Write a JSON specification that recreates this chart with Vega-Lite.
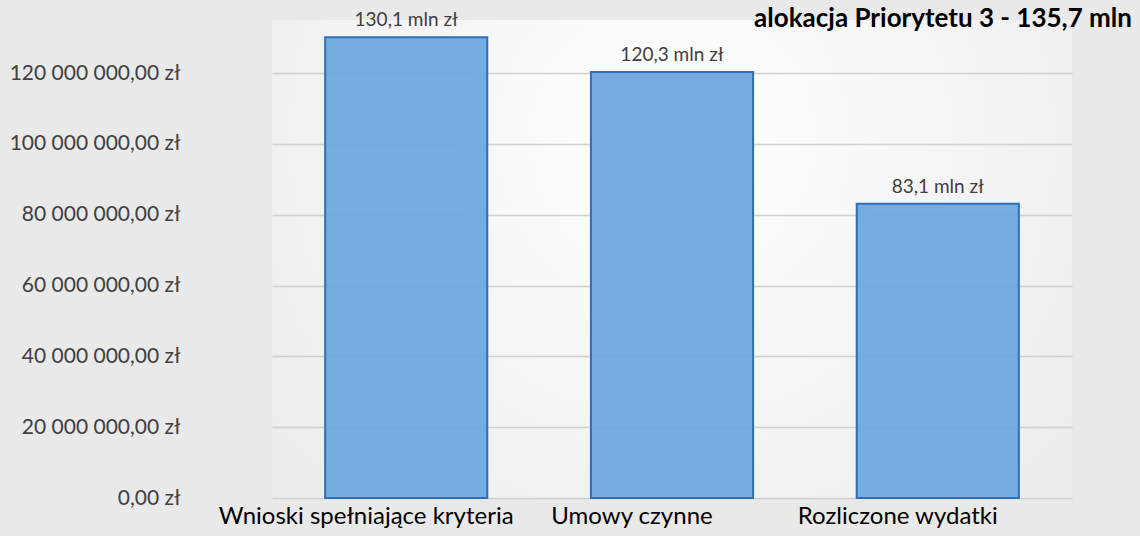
{
  "$schema": "https://vega.github.io/schema/vega-lite/v6.json",
  "autosize": "none",
  "width": 800,
  "height": 478,
  "padding": {"left": 272, "top": 20, "right": 68, "bottom": 38},
  "background": "#e9e9e9",
  "title": {
    "text": "alokacja Priorytetu 3 - 135,7 mln",
    "anchor": "end",
    "frame": "group",
    "dx": 60,
    "dy": 27,
    "fontSize": 26,
    "fontWeight": "bold",
    "font": "Lato",
    "color": "#000000",
    "offset": 6
  },
  "data": {
    "values": [
      {"kategoria": "Wnioski spełniające kryteria", "kwota": 130100000, "etykieta": "130,1 mln zł"},
      {"kategoria": "Umowy czynne", "kwota": 120300000, "etykieta": "120,3 mln zł"},
      {"kategoria": "Rozliczone wydatki", "kwota": 83100000, "etykieta": "83,1 mln zł"}
    ]
  },
  "encoding": {
    "x": {
      "field": "kategoria",
      "type": "nominal",
      "sort": null,
      "scale": {"paddingInner": 0.39, "paddingOuter": 0.2},
      "axis": {
        "title": null,
        "labelAngle": 0,
        "ticks": false,
        "domain": false,
        "labelLimit": 0,
        "labelFontSize": 24,
        "labelFont": "Lato",
        "labelColor": "#000000",
        "labelPadding": 6,
        "labelOffset": -40
      }
    },
    "y": {
      "field": "kwota",
      "type": "quantitative",
      "scale": {"domain": [0, 135000000], "nice": false},
      "axis": {
        "title": null,
        "values": [0, 20000000, 40000000, 60000000, 80000000, 100000000, 120000000],
        "labelExpr": "replace(replace(format(datum.value, ',.2f'), /,/g, ' '), /\\./g, ',') + ' zł'",
        "ticks": false,
        "domain": false,
        "labelLimit": 0,
        "labelPadding": 92,
        "labelFontSize": 21,
        "labelFont": "Lato",
        "labelColor": "#404040",
        "gridColor": "#d0d0d0",
        "gridWidth": 1.5
      }
    }
  },
  "layer": [
    {
      "mark": {
        "type": "bar",
        "fill": "#6fa8e0",
        "fillOpacity": 0.95,
        "stroke": "#2f6fb5",
        "strokeWidth": 2
      }
    },
    {
      "mark": {
        "type": "text",
        "dy": -17,
        "fontSize": 19,
        "font": "Lato",
        "color": "#404040"
      },
      "encoding": {
        "text": {"field": "etykieta"}
      }
    }
  ],
  "config": {
    "view": {
      "stroke": null,
      "fill": {
        "gradient": "radial",
        "x1": 0.5, "y1": 0.35, "x2": 0.5, "y2": 0.35,
        "r1": 0, "r2": 0.75,
        "stops": [
          {"offset": 0, "color": "#ffffff"},
          {"offset": 1, "color": "#e9e9e9"}
        ]
      }
    }
  }
}
